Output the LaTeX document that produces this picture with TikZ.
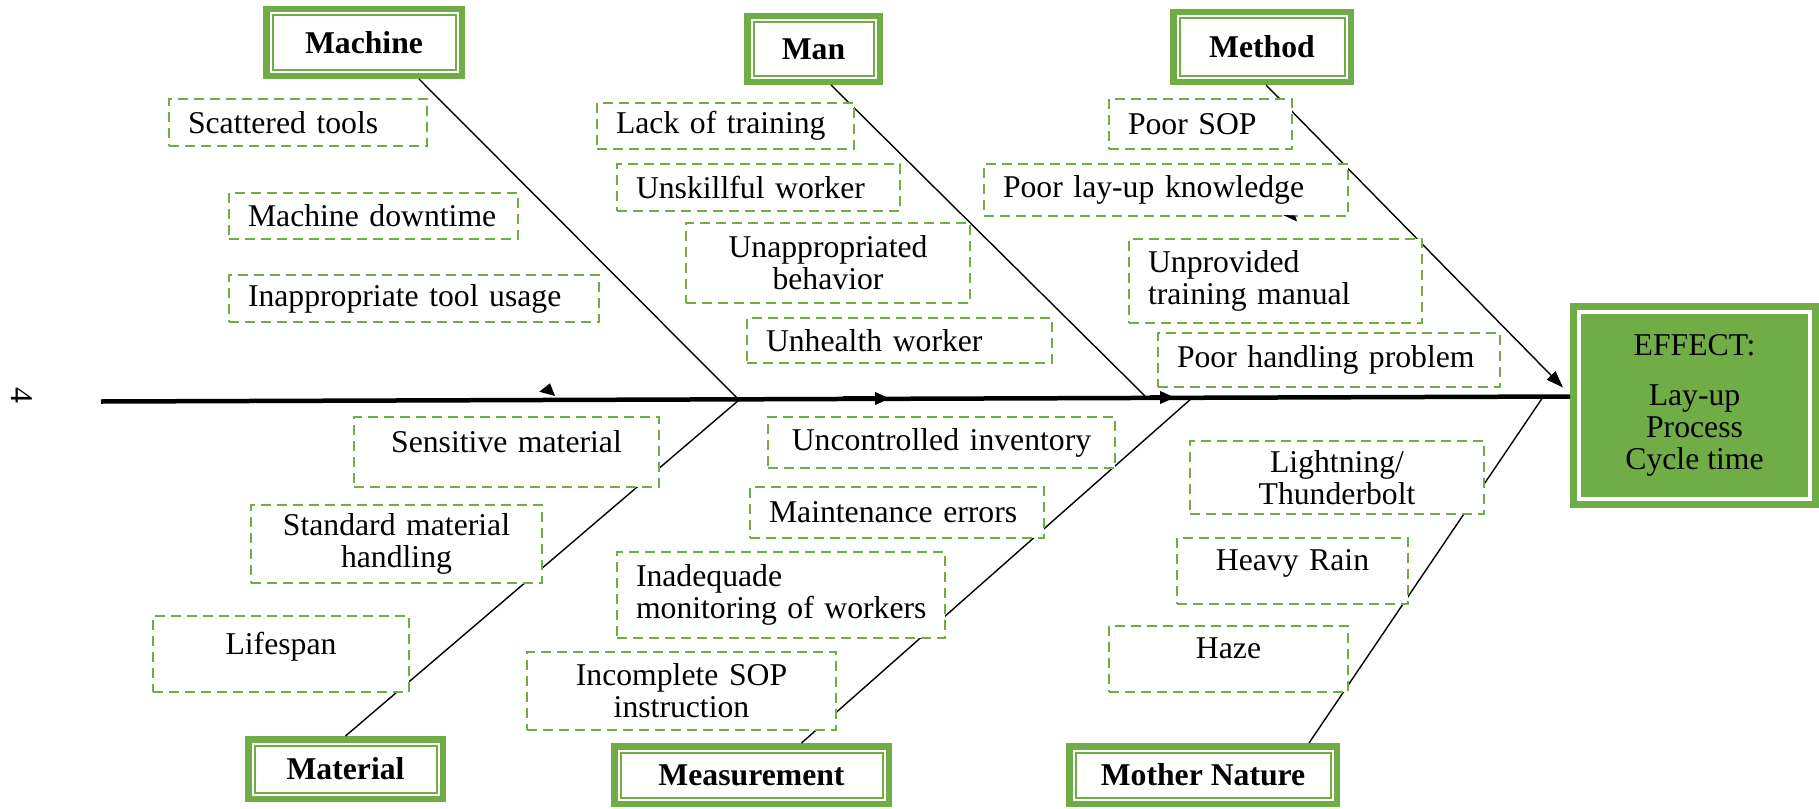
\documentclass[tikz,border=0pt]{standalone}
\usepackage{fontspec}
\setmainfont{Liberation Serif}
\usetikzlibrary{arrows.meta,calc}
\definecolor{fishgreen}{RGB}{112,173,71}

\tikzset{
    txt/.style={font=\fontsize{31.7}{32}\selectfont},
    causebox/.style={txt, draw=fishgreen, line width=2.2pt, dash pattern=on 10pt off 6pt,
        fill=white, inner xsep=19pt, inner ysep=0pt},
    catbox/.style={font=\fontsize{31.7}{32}\selectfont\bfseries, draw=fishgreen,
        line width=6.5pt, fill=white, inner sep=0pt},
    bone/.style={line width=1.4pt},
    spinearrow/.style={line width=4.5pt, -{Triangle[length=15pt,width=12pt]}},
    highline/.style={text depth=22pt}
}

\begin{document}
\begin{tikzpicture}[x=1pt, y=-1pt]

    \useasboundingbox (0,0) rectangle (1819,808);

    % Categories
    \node[catbox, minimum width=195.5pt, minimum height=66.5pt] (machine) at (364,42.5) {Machine};
    \node[catbox, minimum width=132.5pt, minimum height=65.5pt] (man) at (813.5,49) {Man};
    \node[catbox, minimum width=177.5pt, minimum height=69.5pt] (method) at (1262,47) {Method};
    \node[catbox, minimum width=194.5pt, minimum height=59.5pt] (material) at (345.5,769) {Material};
    \node[catbox, minimum width=274.5pt, minimum height=57.5pt] (measurement) at (751.5,775) {Measurement};
    \node[catbox, minimum width=267.5pt, minimum height=57.5pt] (nature) at (1203,775) {Mother Nature};
    \foreach \n in {machine,man,method,material,measurement,nature}
        \draw[fishgreen, line width=2pt] ($(\n.north west)+(9.5,9.5)$) rectangle ($(\n.south east)+(-9.5,-9.5)$);

    % Effect
    \node[txt, fill=fishgreen, minimum width=249pt, minimum height=205pt, inner sep=0pt, outer sep=0pt,
        align=center] (effect) at (1694.5,405.5) {EFFECT:\\[18pt]Lay-up\\Process\\Cycle time};
    \draw[white, line width=3.3pt] ($(effect.north west)+(9,9)$) rectangle ($(effect.south east)+(-9,-9)$);

    % Spine and bones
    \coordinate (tail) at (101,401.5);
    \coordinate (j1) at (739,400);
    \coordinate (j2) at (1148,399);
    \coordinate (j3) at (1192,398);
    \coordinate (j4) at (1543,397);
    \draw[line width=4.5pt] (tail) -- ([yshift=9pt]effect.west);
    \draw[bone] ([xshift=55pt]machine.south) -- (j1);
    \draw[bone] (material.north) -- (j1);
    \draw[bone] ([xshift=17.5pt]man.south) -- (j2);
    \draw[bone] ([xshift=50pt]measurement.north) -- (j3);
    \draw[bone] ([xshift=106pt]nature.north) -- (j4);
    \draw[bone, -{Triangle[length=17pt,width=12pt]}] ([xshift=4pt]method.south) -- ([xshift=-7pt,yshift=18pt]effect.west);

    % Arrow tips on the spine
    \draw[spinearrow] (843,398.5) -- (890,398.5);
    \draw[spinearrow] (1150,397.5) -- (1175,397.5);
    \fill (539.3,391.7) -- (550,383.3) -- (555,396) -- cycle;

    % Machine causes
    \node[causebox, align=left, text width=220pt, minimum height=47pt] (scattered) at (298,122.5) {Scattered tools};
    \node[causebox, align=left, text width=251pt, minimum height=46pt] (downtime) at (373.5,216) {Machine downtime};
    \node[causebox, align=left, text width=332pt, minimum height=47pt] (toolusage) at (414,298.5) {Inappropriate tool usage};

    % Man causes
    \node[causebox, align=left, text width=219pt, minimum height=46pt] (training) at (725.5,126) {Lack of training};
    \node[causebox, align=left, text width=245pt, minimum height=47pt] (unskillful) at (758.5,187.5) {Unskillful worker};
    \node[causebox, align=center, text width=246pt, minimum height=80pt] (behavior) at (828,263) {Unappropriated\\behavior};
    \node[causebox, align=left, text width=267pt, minimum height=45pt] (unhealth) at (899.5,340.5) {Unhealth worker};

    % Method causes
    \node[causebox, align=left, text width=145pt, minimum height=50pt] (poorsop) at (1200.5,124) {Poor SOP};
    \node[causebox, align=left, text width=326pt, minimum height=52pt] (knowledge) at (1166,190) {Poor lay-up knowledge};
    \node[causebox, align=left, text width=255pt, minimum height=84pt] (manual) at (1275.5,281) {Unprovided\\training manual};
    \node[causebox, align=left, text width=304pt, minimum height=54pt] (handling) at (1329,360) {Poor handling problem};
    \fill (1283,215) -- (1295,215.5) -- (1297,221.5) -- cycle;

    % Material causes
    \node[causebox, highline, align=center, text width=267pt, minimum height=70pt] (sensitive) at (506.5,452) {Sensitive material};
    \node[causebox, align=center, text width=253pt, minimum height=78pt] (standard) at (396.5,544) {Standard material\\handling};
    \node[causebox, highline, align=center, text width=218pt, minimum height=76pt] (lifespan) at (281,654) {Lifespan};

    % Measurement causes
    \node[causebox, align=center, text width=309pt, minimum height=51pt] (inventory) at (941.5,442.5) {Uncontrolled inventory};
    \node[causebox, align=left, text width=256pt, minimum height=51pt] (maintenance) at (897,512.5) {Maintenance errors};
    \node[causebox, align=left, inner xsep=12pt, text width=304pt, minimum height=86pt] (monitoring) at (781,595) {\hspace*{7pt}Inadequade\\\hspace*{7pt}monitoring of workers};
    \node[causebox, align=center, text width=271pt, minimum height=78pt] (incomplete) at (681.5,691) {Incomplete SOP\\instruction};

    % Mother Nature causes
    \node[causebox, align=center, text width=256pt, minimum height=73pt] (lightning) at (1337,477.5) {Lightning/\\Thunderbolt};
    \node[causebox, highline, align=center, text width=193pt, minimum height=66pt] (heavyrain) at (1292.5,571) {Heavy Rain};
    \node[causebox, highline, align=center, text width=201pt, minimum height=66pt] (haze) at (1228.5,659) {Haze};

    % Page number
    \node[txt, rotate=-90] (pagenum) at (22,395) {4};

\end{tikzpicture}
\end{document}
